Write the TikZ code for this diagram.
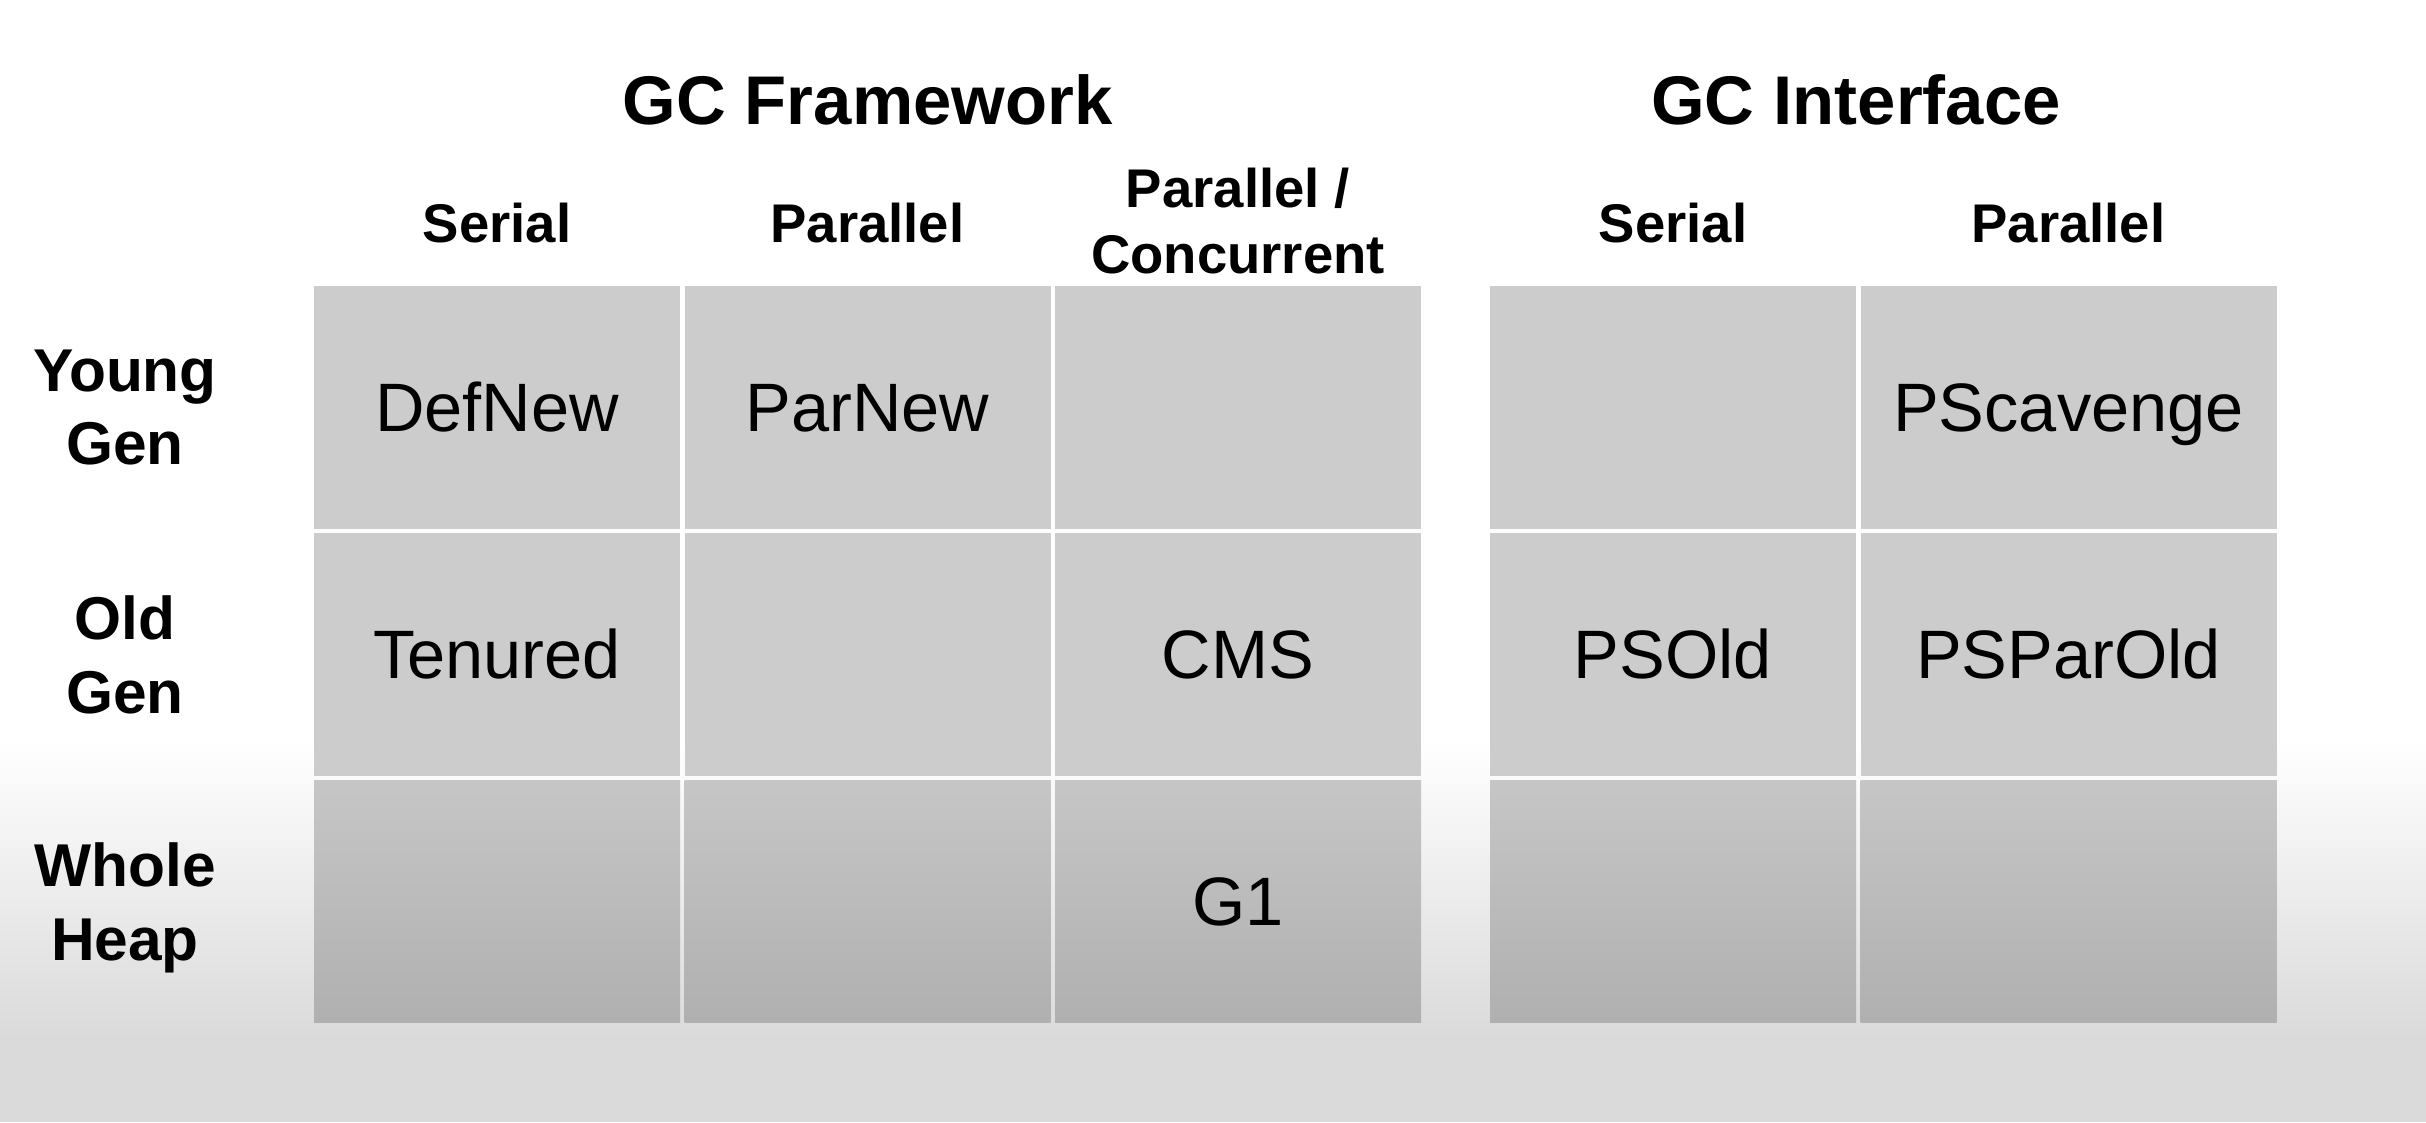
\documentclass[tikz,border=0pt]{standalone}
\usepackage{fontspec}
\setmainfont{Liberation Sans}
\usepackage{tikz}
\usetikzlibrary{positioning}

\definecolor{cellgray}{HTML}{CCCCCC}
\definecolor{heaptop}{HTML}{C6C6C6}
\definecolor{heapbottom}{HTML}{B0B0B0}
\definecolor{floorgray}{HTML}{DADADA}

\begin{document}
\begin{tikzpicture}[node distance=0.45mm, auto]
  % Define styles
  \tikzstyle{cell} = [rectangle, fill=cellgray, minimum width=36.6mm, minimum height=24.25mm, inner sep=0pt, outer sep=0pt, text height=14pt, text depth=0pt, font=\fontsize{19.5}{23}\selectfont]
  \tikzstyle{wide} = [minimum width=41.6mm]
  \tikzstyle{heap} = [top color=heaptop, bottom color=heapbottom]
  \tikzstyle{colhead} = [font=\fontsize{15.5}{18.7}\selectfont\bfseries, align=center, inner sep=0pt, outer sep=0pt]
  \tikzstyle{rowhead} = [font=\fontsize{17.2}{21}\selectfont\bfseries, align=center, inner sep=0pt, text depth=0pt]
  \tikzstyle{title} = [font=\fontsize{19.6}{23}\selectfont\bfseries, inner sep=0pt, outer sep=0pt]

  % Background
  \useasboundingbox (0,0) rectangle (242.6mm,-112.2mm);
  \fill[white] (0,0) rectangle (242.6mm,-74.1mm);
  \shade[top color=white, bottom color=floorgray] (0,-74mm) rectangle (242.6mm,-104mm);
  \fill[floorgray] (0,-103.9mm) rectangle (242.6mm,-112.2mm);

  % Young generation row
  \node [cell] (young-ser) at (49.7mm,-40.725mm) {DefNew};
  \node [cell, right=of young-ser] (young-par) {ParNew};
  \node [cell, right=of young-par] (young-con) {};
  \node [cell, right=6.9mm of young-con] (young-iser) {};
  \node [cell, wide, right=of young-iser] (young-ipar) {PScavenge};

  % Old generation row
  \node [cell, below=of young-ser] (old-ser) {Tenured};
  \node [cell, below=of young-par] (old-par) {};
  \node [cell, below=of young-con] (old-con) {CMS};
  \node [cell, below=of young-iser] (old-iser) {PSOld};
  \node [cell, wide, below=of young-ipar] (old-ipar) {PSParOld};

  % Whole heap row
  \node [cell, heap, below=of old-ser] (heap-ser) {};
  \node [cell, heap, below=of old-par] (heap-par) {};
  \node [cell, heap, below=of old-con] (heap-con) {G1};
  \node [cell, heap, below=of old-iser] (heap-iser) {};
  \node [cell, heap, wide, below=of old-ipar] (heap-ipar) {};

  % Column headers
  \node [colhead, above=4.3mm of young-ser] (fw-ser) {Serial};
  \node [colhead, above=4.3mm of young-par] (fw-par) {Parallel};
  \node [colhead, above=1.2mm of young-con] (fw-con) {Parallel /\\Concurrent};
  \node [colhead, above=4.3mm of young-iser] (if-ser) {Serial};
  \node [colhead, above=4.3mm of young-ipar] (if-par) {Parallel};

  % Titles
  \node [title, above=7.8mm of fw-par] (gc-fw) {GC Framework};
  \node [title] (gc-if) at (young-iser.east |- gc-fw) {GC Interface};

  % Row labels
  \node [rowhead] (young) at (12.5mm,0 |- young-ser) {Young\\Gen};
  \node [rowhead] (old) at (12.5mm,0 |- old-ser) {Old\\Gen};
  \node [rowhead] (whole) at (12.5mm,0 |- heap-ser) {Whole\\Heap};

\end{tikzpicture}
\end{document}
